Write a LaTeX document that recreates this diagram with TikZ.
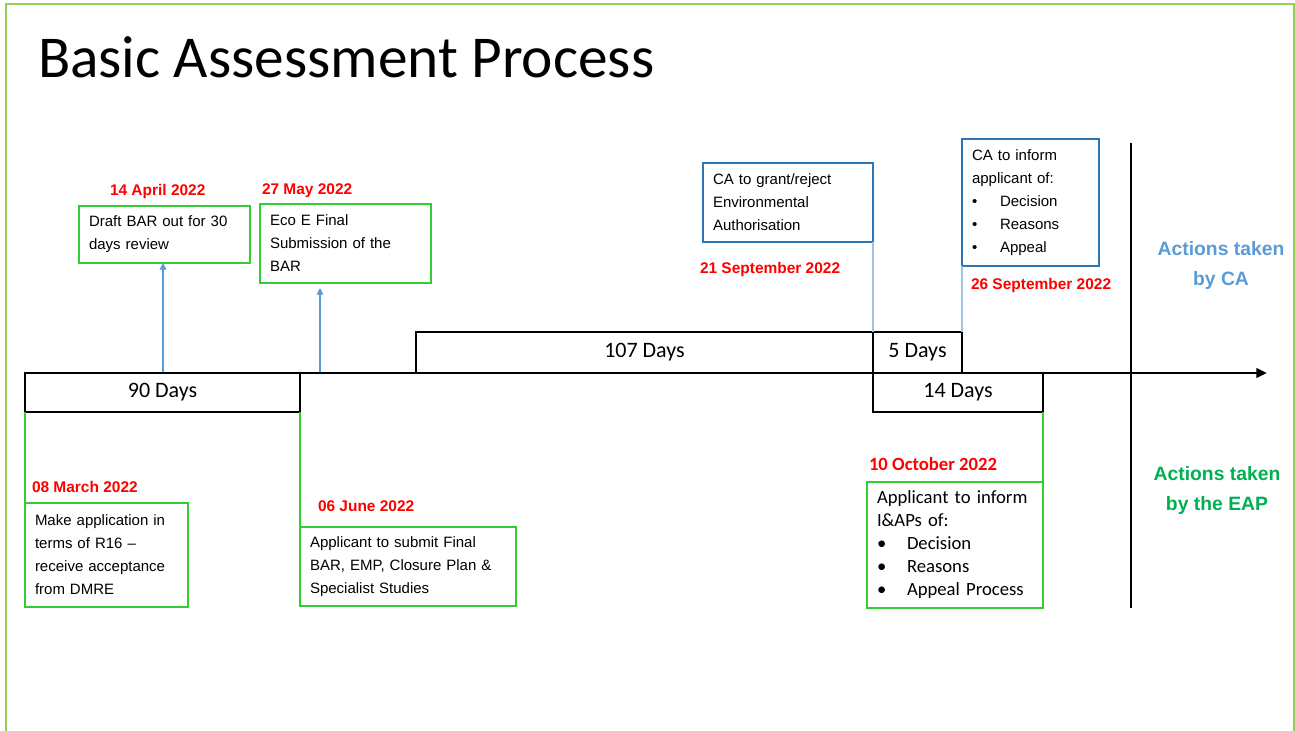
\documentclass[tikz,border=0pt]{standalone}
\usepackage{fontspec}
\setmainfont{Liberation Sans}
\newfontfamily\calib{Carlito}
\usetikzlibrary{arrows.meta}
\definecolor{framegreen}{HTML}{92D050}
\definecolor{boxgreen}{HTML}{33CC33}
\definecolor{boxblue}{HTML}{2E75B6}
\definecolor{arrowblue}{HTML}{5B9BD5}
\definecolor{lineblue}{HTML}{9DC3E6}
\definecolor{datered}{HTML}{FF0000}
\definecolor{catext}{HTML}{5B9BD5}
\definecolor{eaptext}{HTML}{00B050}
\begin{document}
\begin{tikzpicture}[x=0.75pt,y=-0.75pt,
  every node/.style={outer sep=0pt},
  gbox/.style={draw=boxgreen, line width=1.2pt, rectangle, inner xsep=7.5pt, inner ysep=0pt,
    align=left, anchor=north west, font=\fontsize{11.25}{17.25}\selectfont},
  bbox/.style={gbox, draw=boxblue},
  daybox/.style={draw=black, line width=1.1pt, rectangle, inner sep=0pt, anchor=north west,
    font=\calib\fontsize{16.5}{18}\selectfont},
  datelbl/.style={anchor=west, inner sep=0pt, text=datered, font=\bfseries\fontsize{11.6}{14}\selectfont},
  sidelbl/.style={inner sep=0pt, align=center, font=\bfseries\fontsize{14.5}{22.5}\selectfont},
  uparrow/.style={draw=arrowblue, line width=1pt, -{Triangle[length=5pt,width=5pt]}},
  greenline/.style={draw=boxgreen, line width=1pt},
  blueline/.style={draw=lineblue, line width=1pt}
]
\useasboundingbox (0,0) rectangle (1295,731);
\draw[framegreen, line width=1.5pt] (6,4) rectangle (1294,760);

% title
\node[anchor=base west, inner sep=0pt, font=\calib\fontsize{44.5}{50}\selectfont] (title) at (38,78) {Basic Assessment Process};

% day boxes
\node[daybox, minimum width=206.25pt, minimum height=29.25pt] (d90) at (25,373) {90 Days};
\node[daybox, minimum width=342.75pt, minimum height=30.75pt] (d107) at (416,332) {107 Days};
\node[daybox, minimum width=66.75pt, minimum height=30.75pt] (d5) at (873,332) {5 Days};
\node[daybox, minimum width=127.5pt, minimum height=29.25pt] (d14) at (873,373) {14 Days};

% upper boxes
\node[gbox, text width=113.25pt, minimum height=42.75pt] (draft) at (79,206) {Draft BAR out for 30\\days review};
\node[gbox, text width=113.25pt, minimum height=59.25pt] (eco) at (260,204) {Eco E Final\\Submission of the\\BAR};
\node[bbox, text width=112.5pt, minimum height=59.25pt] (grant) at (703,163) {CA to grant/reject\\Environmental\\Authorisation};
\node[bbox, text width=87.75pt, minimum height=95.25pt] (cainf) at (962,139) {CA to inform\\applicant of:\\\makebox[21pt][l]{•}Decision\\\makebox[21pt][l]{•}Reasons\\\makebox[21pt][l]{•}Appeal};

% lower boxes
\node[gbox, text width=107.25pt, minimum height=78pt] (makeapp) at (25,503) {Make application in\\terms of R16 –\\receive acceptance\\from DMRE};
\node[gbox, text width=147pt, minimum height=59.25pt] (submit) at (300,527) {Applicant to submit Final\\BAR, EMP, Closure Plan \&\\Specialist Studies};
\node[gbox, text width=117pt, minimum height=94.5pt, font=\calib\fontsize{14}{17.25}\selectfont] (iap) at (867,482) {Applicant to inform\\I\&APs of:\\\makebox[22.5pt][l]{•}Decision\\\makebox[22.5pt][l]{•}Reasons\\\makebox[22.5pt][l]{•}Appeal Process};

% dates
\node[datelbl] (dt1) at (110,192) {14 April 2022};
\node[datelbl] (dt2) at (262,191) {27 May 2022};
\node[datelbl] (dt3) at (700,269) {21 September 2022};
\node[datelbl] (dt4) at (971,285) {26 September 2022};
\node[datelbl] (dt5) at (32,487) {08 March 2022};
\node[datelbl] (dt6) at (318,506) {06 June 2022};
\node[datelbl, font=\calib\bfseries\fontsize{14}{16}\selectfont] (dt7) at (869,464) {10 October 2022};

% side labels
\node[sidelbl, text=catext] (lca) at (1221,266) {Actions taken\\by CA};
\node[sidelbl, text=eaptext] (leap) at (1217,490) {Actions taken\\by the EAP};

% connectors
\coordinate (a1) at (163,373);
\coordinate (a2) at (320,373);
\draw[uparrow] (a1) -- (a1 |- draft.south);
\draw[uparrow, shorten >=3.75pt] (a2) -- (a2 |- eco.south);
\draw[greenline] (d90.south west) -- (makeapp.north west);
\draw[greenline] (d90.south east) -- (submit.north west);
\draw[greenline] (d14.south east) -- (iap.north east);
\draw[blueline] (d5.north west) -- (grant.south east);
\draw[blueline] (d5.north east) -- (cainf.south west);

% separator
\coordinate (s0) at (1131,143);
\coordinate (s1) at (1131,608);
\draw[line width=1.1pt] (s0) -- (s1);

% timeline
\coordinate (tl0) at (25,373);
\coordinate (tl1) at (1267,373);
\draw[line width=2pt, -{Triangle[length=8pt,width=7pt]}] (tl0) -- (tl1);
\end{tikzpicture}
\end{document}
